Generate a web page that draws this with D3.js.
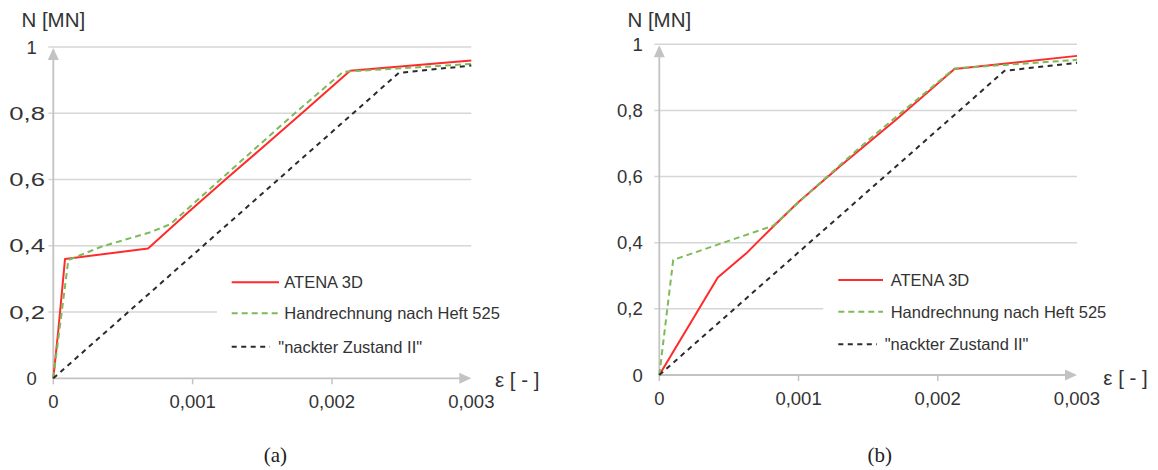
<!DOCTYPE html>
<html><head><meta charset="utf-8">
<script src="https://cdn.jsdelivr.net/npm/d3@7"></script>
<style>
html,body{margin:0;padding:0;background:#fff;}
svg{display:block;}
text{font-family:"Liberation Sans",Arial,sans-serif;}
</style></head>
<body>
<svg id="chart" width="1158" height="470"></svg>
<script>
// ---- data ----
const strainTicks = [0, 0.001, 0.002, 0.003];
const strainTickLabels = ["0", "0,001", "0,002", "0,003"];
const forceTicks = [0, 0.2, 0.4, 0.6, 0.8, 1];
const forceTickLabels = ["0", "0,2", "0,4", "0,6", "0,8", "1"];
const seriesNames = ["ATENA 3D", "Handrechnung nach Heft 525", "\"nackter Zustand II\""];
const panelCaptions = ["(a)", "(b)"];
const yTitle = "N [MN]";
const xTitle = "ε [ - ]";

// panel (a): [strain, N]
const atenaA = [[0,0],[0.000036,0.145],[0.000084,0.36],[0.00068,0.392],[0.00096,0.498],[0.00125,0.605],[0.00151,0.70],[0.0018,0.806],[0.00213,0.928],[0.003,0.959]];
const heftA  = [[0,0],[0.000108,0.357],[0.00035,0.398],[0.00069,0.44],[0.00084,0.465],[0.001,0.525],[0.00117,0.589],[0.00172,0.795],[0.00208,0.925],[0.003,0.949]];
const nacktA = [[0,0],[0.00248,0.922],[0.003,0.944]];
// panel (b)
const atenaB = [[0,0],[0.00042,0.295],[0.00063,0.37],[0.00082,0.45],[0.001,0.523],[0.0013,0.632],[0.0017,0.772],[0.00212,0.925],[0.003,0.965]];
const heftB  = [[0,0],[0.0001,0.348],[0.00082,0.452],[0.00108,0.553],[0.0015,0.71],[0.00212,0.927],[0.003,0.953]];
const nacktB = [[0,0],[0.00248,0.92],[0.003,0.944]];

// ---- styles ----
const seriesStyles = [
  {color:"#ff2a2a", width:2, dash:null},
  {color:"#7dba5a", width:2, dash:"6,4"},
  {color:"#2b2b2b", width:2, dash:"5,4.5"}
];
const gridColor = "#d6d6d6", axisColor = "#c3c3c3", textColor = "#333333";

const panels = [
  {series:[atenaA, heftA, nacktA], x0:53.3, x1:471.3, y0:378.3, y1:47,
   legX:231.7, legX2:279, legTx:284.3, legRows:[282.3,313.3,346.7], legBox:[217,262,300,100],
   quoteHang:true, stretchY:true, caption:[275.3,462], xTitle:[495,386.7]},
  {series:[atenaB, heftB, nacktB], x0:659.3, x1:1077, y0:375, y1:44.3,
   legX:838.3, legX2:883, legTx:890.7, legRows:[280,311.7,344.3], legBox:[823.3,260,300,100],
   quoteHang:false, stretchY:false, caption:[879.7,462], xTitle:[1103.3,385]}
];

const svg = d3.select("#chart");

panels.forEach((p, pi) => {
  const x = d3.scaleLinear().domain([0, 0.003]).range([p.x0, p.x1]);
  const y = d3.scaleLinear().domain([0, 1]).range([p.y0, p.y1]);
  const g = svg.append("g");

  // gridlines
  forceTicks.filter(t => t > 0).forEach(t => {
    g.append("line").attr("x1", p.x0 - 5).attr("x2", p.x1)
      .attr("y1", y(t)).attr("y2", y(t))
      .attr("stroke", gridColor).attr("stroke-width", 1.5);
  });

  // y tick labels
  forceTicks.forEach((t, i) => {
    const lbl = forceTickLabels[i];
    const tx = g.append("text").text(lbl)
      .attr("y", y(t)).attr("dominant-baseline", "central")
      .attr("font-size", 18.5).attr("fill", textColor);
    if (p.stretchY && lbl.length > 1) {
      tx.attr("x", p.x0 - 44).attr("textLength", 35.7).attr("lengthAdjust", "spacingAndGlyphs");
    } else {
      tx.attr("x", p.x0 - 16.6).attr("text-anchor", "end");
    }
  });

  // x ticks + labels
  strainTicks.forEach((t, i) => {
    if (t < 0.003) {
      g.append("line").attr("x1", x(t)).attr("x2", x(t))
        .attr("y1", p.y0).attr("y2", p.y0 + 6)
        .attr("stroke", axisColor).attr("stroke-width", 1.5);
    }
    g.append("text").text(strainTickLabels[i])
      .attr("x", x(t)).attr("y", p.y0 + 29.5).attr("text-anchor", "middle")
      .attr("font-size", 18.5).attr("fill", textColor);
  });

  // axes with arrows
  g.append("line").attr("x1", p.x0).attr("x2", p.x1 - 8).attr("y1", p.y0).attr("y2", p.y0)
    .attr("stroke", axisColor).attr("stroke-width", 1.8);
  g.append("path").attr("d", `M${p.x1},${p.y0} L${p.x1 - 12},${p.y0 - 5.5} L${p.x1 - 12},${p.y0 + 5.5} Z`)
    .attr("fill", axisColor);
  g.append("line").attr("x1", p.x0).attr("x2", p.x0).attr("y1", p.y0).attr("y2", p.y1 + 8)
    .attr("stroke", axisColor).attr("stroke-width", 1.8);
  g.append("path").attr("d", `M${p.x0},${p.y1 + 1} L${p.x0 - 5.5},${p.y1 + 13} L${p.x0 + 5.5},${p.y1 + 13} Z`)
    .attr("fill", axisColor);

  // titles
  g.append("text").text(yTitle).attr("x", p.x0).attr("y", 27).attr("text-anchor", "middle")
    .attr("font-size", 20.5).attr("fill", textColor);
  g.append("text").text(xTitle).attr("x", p.xTitle[0]).attr("y", p.xTitle[1])
    .attr("font-size", 20.5).attr("fill", textColor).attr("xml:space", "preserve");

  // legend background (covers gridlines)
  g.append("rect").attr("x", p.legBox[0]).attr("y", p.legBox[1])
    .attr("width", p.legBox[2]).attr("height", p.legBox[3]).attr("fill", "#fff");

  // series
  const line = d3.line().x(d => x(d[0])).y(d => y(d[1]));
  p.series.forEach((s, si) => {
    const st = seriesStyles[si];
    g.append("path").datum(s).attr("d", line).attr("fill", "none")
      .attr("stroke", st.color).attr("stroke-width", st.width)
      .attr("stroke-dasharray", st.dash).attr("stroke-linejoin", "round");
  });

  // legend
  seriesNames.forEach((name, si) => {
    const st = seriesStyles[si];
    const ry = p.legRows[si];
    const isQuote = name.startsWith("\"");
    const lx2 = (isQuote && p.quoteHang) ? p.legX2 - 9 : (isQuote ? p.legX2 - 6 : p.legX2);
    g.append("line").attr("x1", p.legX).attr("x2", lx2).attr("y1", ry).attr("y2", ry)
      .attr("stroke", st.color).attr("stroke-width", st.width).attr("stroke-dasharray", st.dash);
    let tx = p.legTx;
    if (isQuote) tx = p.legTx - 6;
    g.append("text").text(name).attr("x", tx).attr("y", ry).attr("dominant-baseline", "central")
      .attr("font-size", 16.5).attr("fill", textColor);
  });

  // caption
  g.append("text").text(panelCaptions[pi]).attr("x", p.caption[0]).attr("y", p.caption[1])
    .attr("text-anchor", "middle").attr("font-size", 21).attr("fill", "#222")
    .style("font-family", "'Liberation Serif','DejaVu Serif',serif");
});
</script>
</body></html>
